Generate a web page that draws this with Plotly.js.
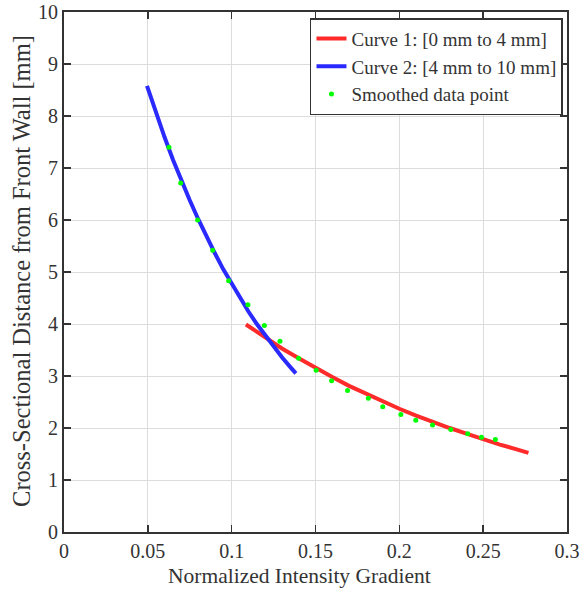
<!DOCTYPE html>
<html><head><meta charset="utf-8">
<script src="https://cdn.plot.ly/plotly-3.0.1.min.js"></script>
<style>html,body{margin:0;padding:0;background:#fff;}#chart{width:580px;height:590px;}</style>
</head><body><div id="chart"></div>
<script>
// Curve 1 (red)
const curve1X = [0.1085,0.12,0.13,0.14,0.15,0.16,0.17,0.18,0.19,0.20,0.21,0.22,0.23,0.24,0.25,0.26,0.27,0.277];
const curve1Y = [3.99,3.74,3.53,3.34,3.15,2.98,2.81,2.66,2.51,2.37,2.24,2.11,2.00,1.89,1.78,1.68,1.59,1.52];
// Curve 2 (blue)
const curve2X = [0.0495,0.055,0.06,0.065,0.07,0.075,0.08,0.085,0.09,0.095,0.10,0.105,0.11,0.115,0.12,0.125,0.13,0.135,0.1383];
const curve2Y = [8.58,8.05,7.59,7.16,6.76,6.38,6.02,5.68,5.36,5.05,4.77,4.50,4.24,4.00,3.78,3.56,3.36,3.17,3.05];
// Smoothed data points (green)
const ptsX = [0.0626,0.0696,0.0797,0.0887,0.0982,0.1097,0.1195,0.1288,0.1399,0.1504,0.1596,0.1691,0.1815,0.1901,0.2009,0.2098,0.2198,0.2307,0.2408,0.2490,0.2573];
const ptsY = [7.40,6.71,6.00,5.42,4.83,4.37,3.97,3.67,3.34,3.11,2.91,2.72,2.57,2.41,2.26,2.15,2.06,1.97,1.89,1.82,1.78];
const xTicks = [0,0.05,0.1,0.15,0.2,0.25,0.3];
const xTickText = ['0','0.05','0.1','0.15','0.2','0.25','0.3'];
const yTicks = [0,1,2,3,4,5,6,7,8,9,10];
const xTitle = 'Normalized Intensity Gradient';
const yTitle = 'Cross-Sectional Distance from Front Wall [mm]';

const font = 'Liberation Serif, Times New Roman, serif';
const traces = [
  {x: curve1X, y: curve1Y, mode: 'lines', name: 'Curve 1: [0 mm to 4 mm]', line: {color: '#ff2a2a', width: 4}},
  {x: curve2X, y: curve2Y, mode: 'lines', name: 'Curve 2: [4 mm to 10 mm]', line: {color: '#2a2aff', width: 4}},
  {x: ptsX, y: ptsY, mode: 'markers', name: 'Smoothed data point', marker: {color: '#00ff00', size: 5}}
];
const axisCommon = {
  showline: true, linecolor: '#333', linewidth: 2, mirror: 'ticks',
  ticks: 'inside', ticklen: 7, tickcolor: '#333', tickwidth: 1.5,
  showgrid: true, gridcolor: '#dcdcdc', gridwidth: 1, zeroline: false,
  tickfont: {family: font, size: 20, color: '#333'}
};
const layout = {
  width: 580, height: 590,
  margin: {l: 64, r: 13, t: 12, b: 58},
  paper_bgcolor: '#fff', plot_bgcolor: '#fff',
  font: {family: font, color: '#333'},
  xaxis: Object.assign({}, axisCommon, {range: [0, 0.3], tickvals: xTicks, ticktext: xTickText}),
  yaxis: Object.assign({}, axisCommon, {range: [0, 10], tickvals: yTicks}),
  annotations: [
    {text: xTitle, xref: 'paper', yref: 'paper', x: 0.469, y: -0.085, xanchor: 'center', yanchor: 'middle',
     showarrow: false, font: {family: font, size: 21.5, color: '#333'}},
    {text: yTitle, xref: 'paper', yref: 'paper', x: -0.0835, y: 0.502, xanchor: 'center', yanchor: 'middle',
     textangle: -90, showarrow: false, font: {family: font, size: 24.5, color: '#333'}}
  ],
  showlegend: true,
  legend: {x: 0.992, y: 0.988, xanchor: 'right', yanchor: 'top', bgcolor: '#fff',
    bordercolor: '#333', borderwidth: 1.5, font: {family: font, size: 19, color: '#333'},
    tracegroupgap: 0, itemwidth: 30}
};
Plotly.newPlot('chart', traces, layout, {displayModeBar: false, staticPlot: true});
</script></body></html>
